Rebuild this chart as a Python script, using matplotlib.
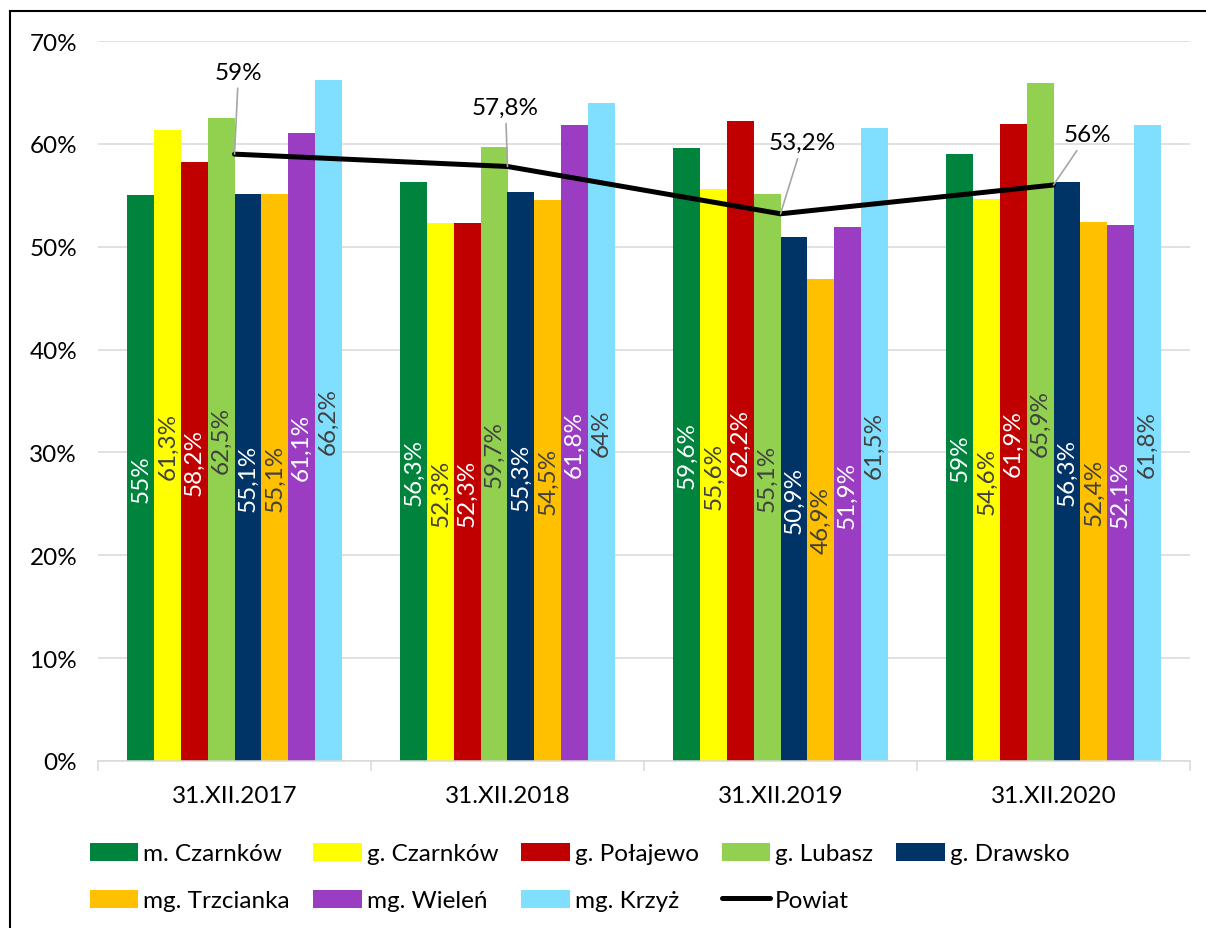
import numpy as np
import matplotlib.pyplot as plt
from matplotlib.lines import Line2D

plt.rcParams['font.family'] = ['Lato', 'DejaVu Sans']

# --- data ---
dates = ["31.XII.2017", "31.XII.2018", "31.XII.2019", "31.XII.2020"]
gminy = ["m. Czarnków", "g. Czarnków", "g. Połajewo", "g. Lubasz",
         "g. Drawsko", "mg. Trzcianka", "mg. Wieleń", "mg. Krzyż"]
m_czarnkow = [55.0, 56.3, 59.6, 59.0]
g_czarnkow = [61.3, 52.3, 55.6, 54.6]
g_polajewo = [58.2, 52.3, 62.2, 61.9]
g_lubasz = [62.5, 59.7, 55.1, 65.9]
g_drawsko = [55.1, 55.3, 50.9, 56.3]
mg_trzcianka = [55.1, 54.5, 46.9, 52.4]
mg_wielen = [61.1, 61.8, 51.9, 52.1]
mg_krzyz = [66.2, 64.0, 61.5, 61.8]
powiat = [59.0, 57.8, 53.2, 56.0]

series = [m_czarnkow, g_czarnkow, g_polajewo, g_lubasz,
          g_drawsko, mg_trzcianka, mg_wielen, mg_krzyz]

# --- styling ---
bar_colors = ["#00843D", "#FFFF00", "#C00000", "#92D050",
              "#003366", "#FFC000", "#9A3DC3", "#80DEFF"]
text_colors = ["white", "#404040", "white", "#404040",
               "white", "#404040", "white", "#404040"]
grid_col = "#D9D9D9"
fs = 17.5


def pct(v):
    return f"{v:g}".replace(".", ",") + "%"


fig = plt.figure(figsize=(12.06, 9.29), dpi=100)
ax = fig.add_axes([98 / 1206, 1 - 762 / 929, (1190 - 98) / 1206, (762 - 42) / 929])

x = np.arange(len(dates))
w = 0.098
for i, (vals, col, tcol, name) in enumerate(zip(series, bar_colors, text_colors, gminy)):
    bars = ax.bar(x + (i - 3.5) * w, vals, width=w, color=col, label=name, zorder=2)
    ax.bar_label(bars, labels=[pct(v) for v in vals], label_type="center",
                 rotation=90, color=tcol, fontsize=fs)

ax.plot(x, powiat, color="black", lw=3.6, solid_capstyle="round", zorder=3, label="Powiat")

# labels for the Powiat line with grey leader lines (offsets in pixels)
label_offsets = [(4, 82), (-2, 59), (22, 71), (34, 50)]
for xi, v, (dx, dy) in zip(x, powiat, label_offsets):
    ax.annotate(pct(v), xy=(xi, v), xytext=(dx, dy), textcoords="offset pixels",
                ha="center", va="center", fontsize=fs, color="black",
                arrowprops=dict(arrowstyle="-", color="#A6A6A6", lw=1.2,
                                shrinkA=2, shrinkB=0))

ax.set_xlim(-0.5, 3.5)
ax.set_ylim(0, 70)
ax.set_yticks(np.arange(0, 71, 10))
ax.set_yticklabels([f"{t}%" for t in range(0, 71, 10)])
ax.set_xticks(x)
ax.set_xticklabels(dates)
ax.set_xticks(np.arange(-0.5, 4.0, 1.0), minor=True)

ax.tick_params(axis="y", length=0, pad=15, labelsize=fs)
ax.tick_params(axis="x", which="major", length=0, pad=17, labelsize=fs)
ax.tick_params(axis="x", which="minor", length=7, width=1.1, color=grid_col)

ax.grid(axis="y", color=grid_col, lw=1.1, zorder=0)
ax.set_axisbelow(True)
for side in ["left", "right", "top"]:
    ax.spines[side].set_visible(False)
ax.spines["bottom"].set_color(grid_col)
ax.spines["bottom"].set_linewidth(1.1)

handles, labels = ax.get_legend_handles_labels()
# line goes last, then reorder so the legend reads row by row
handles = handles[1:] + handles[:1]
labels = labels[1:] + labels[:1]
order = [0, 5, 1, 6, 2, 7, 3, 8, 4]
fig.legend([handles[k] for k in order], [labels[k] for k in order],
           ncol=5, loc="upper left",
           bbox_to_anchor=(68 / 1206, 1 - 822 / 929), frameon=False,
           fontsize=fs, handlelength=2.0, handleheight=0.75,
           handletextpad=0.2, columnspacing=0.95, labelspacing=1.05)

# outer border (top and left edges visible in the reference)
fig.add_artist(Line2D([10 / 1206, 1], [1 - 12 / 929, 1 - 12 / 929],
                      transform=fig.transFigure, color="black", lw=1.5))
fig.add_artist(Line2D([10 / 1206, 10 / 1206], [0, 1 - 12 / 929],
                      transform=fig.transFigure, color="black", lw=1.5))

fig.savefig("out.png", dpi=100)
